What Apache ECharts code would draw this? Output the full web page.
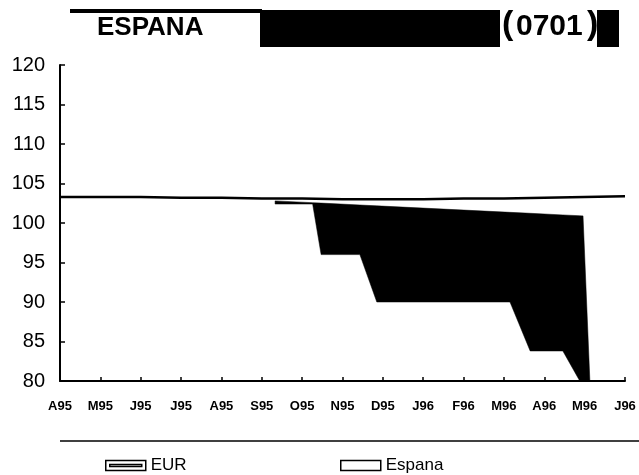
<!DOCTYPE html>
<html>
<head>
<meta charset="utf-8">
<script src="https://cdn.jsdelivr.net/npm/echarts@6/dist/echarts.min.js"></script>
<style>
html,body{margin:0;padding:0;background:#fff;}
#chart{width:639px;height:475px;}
</style>
</head>
<body>
<div id="chart"></div>
<script>
// ---- data ----
var xLabels = ['A95','M95','J95','J95','A95','S95','O95','N95','D95','J96','F96','M96','A96','M96','J96'];
var yTicks = [80, 85, 90, 95, 100, 105, 110, 115, 120];
var eurValues = [103.3, 103.3, 103.3, 103.2, 103.2, 103.1, 103.1, 103.0, 103.0, 103.0, 103.1, 103.1, 103.2, 103.3, 103.4];
// Espana band: x positions (in month units from A95), upper edge and lower edge
var espX   = [5.33, 6.26, 6.47, 7.43, 7.85, 11.15, 11.65, 12.46, 12.88, 12.96, 13.13];
var espTop = [102.8, 102.57, 102.52, 102.28, 102.17, 101.35, 101.23, 101.02, 100.92, 100.9, 80];
var espLow = [102.4, 102.4, 96.0, 96.0, 90.0, 90.0, 83.8, 83.8, 80, 80, 80];
var titleText = 'ESPANA';
var codeText = '0701';

var FONT = "'Liberation Sans', Arial, Helvetica, sans-serif";
var chart = echarts.init(document.getElementById('chart'), null, {renderer: 'canvas'});

var espData = espX.map(function (x, i) { return [x, espTop[i], espLow[i]]; });

function renderBand(params, api) {
  if (params.dataIndex !== 0) return null;
  var pts = [];
  for (var i = 0; i < espX.length; i++) pts.push(api.coord([espX[i], espTop[i]]));
  for (var j = espX.length - 1; j >= 0; j--) pts.push(api.coord([espX[j], espLow[j]]));
  return {
    type: 'polygon',
    shape: {points: pts},
    style: {fill: '#000', stroke: '#000', lineWidth: 0.5}
  };
}

var option = {
  animation: false,
  backgroundColor: '#fff',
  grid: {left: 60, right: 14, top: 65, bottom: 94, containLabel: false},
  xAxis: {
    type: 'value', min: 0, max: xLabels.length - 1, interval: 1, z: 10,
    axisLine: {show: true, onZero: false, lineStyle: {color: '#000', width: 2}},
    axisTick: {show: true, inside: true, length: 4, lineStyle: {color: '#000', width: 1.5}},
    splitLine: {show: false},
    axisLabel: {
      color: '#000', fontFamily: FONT, fontWeight: 'bold', fontSize: 13, margin: 19,
      formatter: function (v) { return xLabels[Math.round(v)] || ''; }
    }
  },
  yAxis: {
    type: 'value', min: yTicks[0], max: yTicks[yTicks.length - 1], interval: 5, z: 10,
    axisLine: {show: true, onZero: false, lineStyle: {color: '#000', width: 2}},
    axisTick: {show: true, inside: true, length: 5, lineStyle: {color: '#000', width: 1.5}},
    splitLine: {show: false},
    axisLabel: {color: '#000', fontFamily: FONT, fontSize: 20, margin: 15}
  },
  legend: [
    {
      data: [{name: 'EUR', icon: 'path://M0,0H40V10H0Z M4,4H36V6H4Z'}],
      left: 100, top: 452, itemWidth: 40, itemHeight: 10, itemGap: 10,
      textStyle: {color: '#000', fontFamily: FONT, fontSize: 17},
      itemStyle: {color: '#fff', borderColor: '#000', borderWidth: 1.5}
    },
    {
      data: [{name: 'Espana', icon: 'rect'}],
      left: 335, top: 452, itemWidth: 40, itemHeight: 10,
      textStyle: {color: '#000', fontFamily: FONT, fontSize: 17},
      itemStyle: {color: '#fff', borderColor: '#000', borderWidth: 1.5}
    }
  ],
  graphic: [
    {type: 'line', shape: {x1: 70, y1: 11, x2: 262, y2: 11}, style: {stroke: '#000', lineWidth: 4}},
    {type: 'rect', shape: {x: 260, y: 10, width: 240, height: 37}, style: {fill: '#000'}},
    {type: 'text', left: 97, top: 15, style: {text: titleText, fill: '#000', font: 'bold 26px ' + FONT}},
    {type: 'text', left: 502, top: 8, style: {text: '(', fill: '#000', font: 'bold 34px ' + FONT}},
    {type: 'text', left: 516, top: 12, style: {text: codeText, fill: '#000', font: 'bold 30px ' + FONT}},
    {type: 'text', left: 587, top: 8, style: {text: ')', fill: '#000', font: 'bold 34px ' + FONT}},
    {type: 'rect', shape: {x: 597, y: 10, width: 22, height: 37}, style: {fill: '#000'}},
    {type: 'line', shape: {x1: 60, y1: 441, x2: 639, y2: 441}, style: {stroke: '#000', lineWidth: 1.5}}
  ],
  series: [
    {
      name: 'Espana', type: 'custom', data: espData, renderItem: renderBand, z: 2,
      encode: {x: 0, y: [1, 2]}, itemStyle: {color: '#000'}
    },
    {
      name: 'EUR', type: 'line', data: eurValues.map(function (v, i) { return [i, v]; }),
      symbol: 'none', z: 4, lineStyle: {color: '#000', width: 2.5}, itemStyle: {color: '#000'}
    }
  ]
};
chart.setOption(option);
</script>
</body>
</html>
